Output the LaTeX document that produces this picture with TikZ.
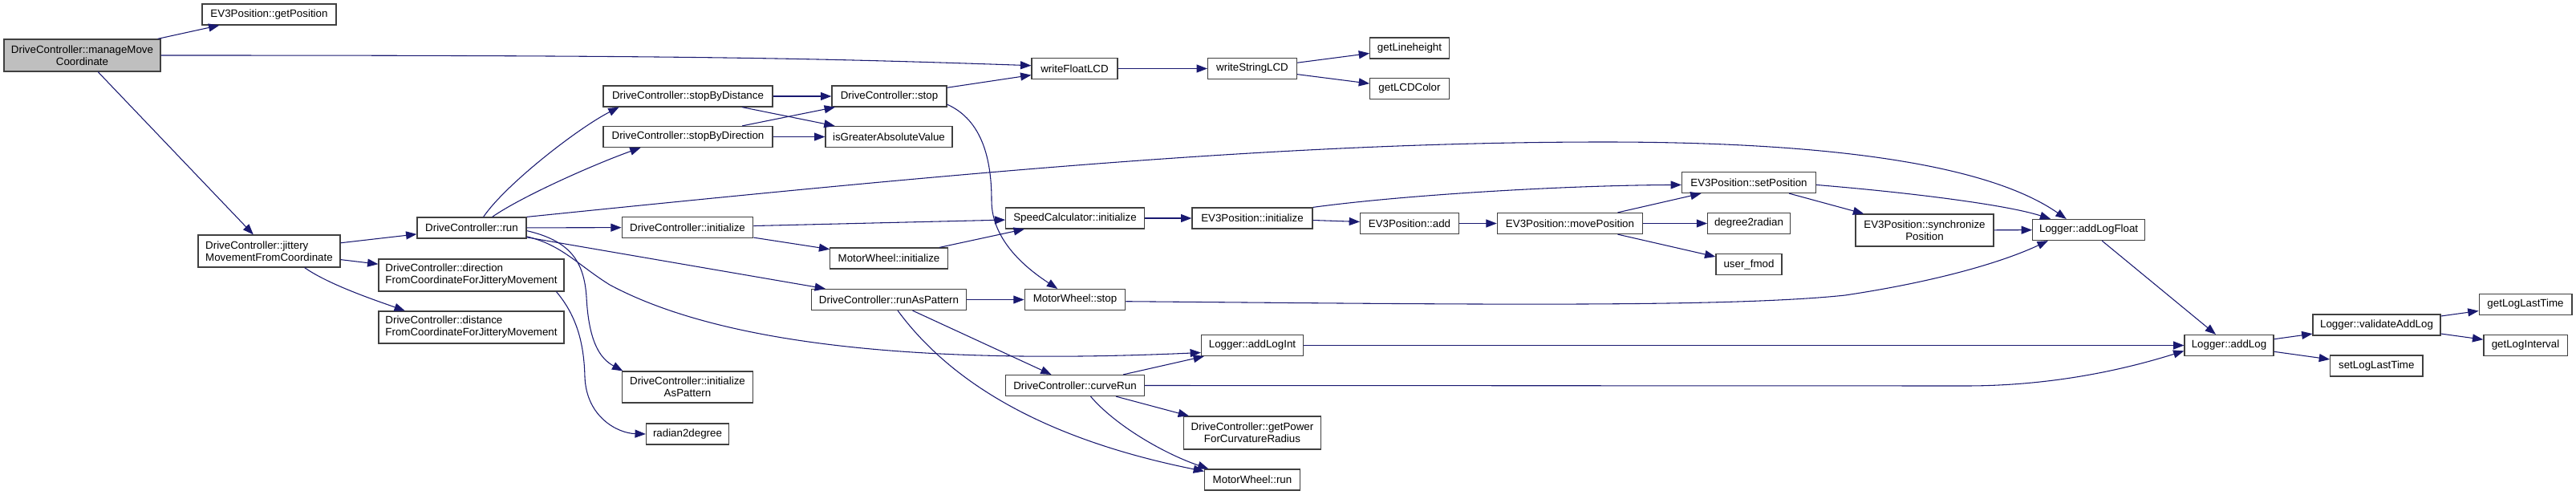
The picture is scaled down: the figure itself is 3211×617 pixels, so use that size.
\documentclass[tikz,border=0pt]{standalone}
\usepackage{fontspec}
\setmainfont{Liberation Sans}
\usepackage{tikz}
\usetikzlibrary{arrows.meta}
\usepackage{xcolor}
\definecolor{edgeblue}{HTML}{191970}
\definecolor{rootgray}{HTML}{BFBFBF}
\definecolor{boxline}{HTML}{404040}

\begin{document}
\begin{tikzpicture}[x=0.75pt, y=-0.75pt,
		func/.style={draw=boxline, line width=0.9pt, fill=white, font=\fontsize{10}{11.25}\selectfont, inner sep=0pt, minimum height=19.5pt, align=center},
		func_two/.style={func, minimum height=30pt},
		func_left/.style={func_two, align=left},
		func_root/.style={func_two, fill=rootgray},
		callstyle/.style={-{Triangle[length=10pt, width=7.5pt]}, line width=0.8pt, edgeblue}
	]
	\useasboundingbox (0,0) rectangle (3211,617);

	% --- Caller and first ranks ---
	\node[func_root, minimum width=146.25pt] (dc_mmc) at (102.5,69) {DriveController::manageMove\\Coordinate};
	\node[func, minimum width=125.25pt] (ev_getpos) at (335.5,18) {EV3Position::getPosition};
	\node[func_left, minimum width=132.75pt] (dc_jit) at (335.5,313) {DriveController::jittery\\MovementFromCoordinate};

	\node[func, minimum width=102pt] (dc_run) at (588,284) {DriveController::run};
	\node[func_left, minimum width=173.25pt] (dc_dir) at (587.5,343) {DriveController::direction\\FromCoordinateForJitteryMovement};
	\node[func_left, minimum width=173.25pt] (dc_dist) at (587.5,408) {DriveController::distance\\FromCoordinateForJitteryMovement};

	% --- Stop / initialize rank ---
	\node[func, minimum width=158.25pt] (dc_sbd) at (857.5,120) {DriveController::stopByDistance};
	\node[func, minimum width=158.25pt] (dc_sbdir) at (857.5,170.5) {DriveController::stopByDirection};
	\node[func, minimum width=122.6pt] (dc_init) at (857,283.5) {DriveController::initialize};
	\node[func_two, minimum width=122.6pt, minimum height=29.25pt] (dc_iap) at (857,482.5) {DriveController::initialize\\AsPattern};
	\node[func, minimum width=77.3pt] (u_r2d) at (857,541) {radian2degree};

	\node[func, minimum width=107.25pt] (dc_stop) at (1108.5,120) {DriveController::stop};
	\node[func, minimum width=118.5pt] (u_isg) at (1108,170.5) {isGreaterAbsoluteValue};
	\node[func, minimum width=109.7pt] (mw_init) at (1108,322) {MotorWheel::initialize};
	\node[func, minimum width=144.7pt] (dc_rap) at (1108,373.5) {DriveController::runAsPattern};

	\node[func, minimum width=80.25pt] (u_wfl) at (1339.5,85.5) {writeFloatLCD};
	\node[func, minimum width=129.4pt] (sc_init) at (1340,272) {SpeedCalculator::initialize};
	\node[func, minimum width=94.2pt] (mw_stop) at (1340,373.5) {MotorWheel::stop};
	\node[func, minimum width=129.3pt] (dc_crun) at (1340,480.5) {DriveController::curveRun};

	% --- LCD, position and logger ranks ---
	\node[func, minimum width=83.2pt] (u_wsl) at (1561,85.5) {writeStringLCD};
	\node[func, minimum width=112.5pt] (ev_init) at (1561,272) {EV3Position::initialize};
	\node[func, minimum width=95.2pt] (lg_int) at (1561,430.5) {Logger::addLogInt};
	\node[func_two, minimum width=128.7pt, minimum height=30.75pt] (dc_gpow) at (1561,539.5) {DriveController::getPower\\ForCurvatureRadius};
	\node[func, minimum width=89.1pt] (mw_run) at (1561,598) {MotorWheel::run};

	\node[func, minimum width=74pt] (u_glh) at (1757,60) {getLineheight};
	\node[func, minimum width=74pt] (u_glc) at (1757,110.5) {getLCDColor};
	\node[func, minimum width=92.1pt] (ev_add) at (1757,278.5) {EV3Position::add};
	\node[func, minimum width=136pt] (ev_move) at (1957,278.5) {EV3Position::movePosition};

	\node[func, minimum width=125.25pt] (ev_set) at (2180,227.5) {EV3Position::setPosition};
	\node[func, minimum width=77pt] (u_d2r) at (2180,278.5) {degree2radian};
	\node[func, minimum width=61.6pt] (u_fmod) at (2180,329.5) {user\_fmod};

	\node[func_two, minimum width=129pt] (ev_sync) at (2399,287) {EV3Position::synchronize\\Position};
	\node[func, minimum width=105pt] (lg_float) at (2603.6,286.5) {Logger::addLogFloat};
	\node[func, minimum width=83.2pt] (lg_add) at (2778.5,430.5) {Logger::addLog};
	\node[func, minimum width=119.2pt] (lg_val) at (2962.5,405) {Logger::validateAddLog};
	\node[func, minimum width=86.5pt] (u_sllt) at (2962.3,456) {setLogLastTime};
	\node[func, minimum width=86.8pt] (u_gllt) at (3148,379.5) {getLogLastTime};
	\node[func, minimum width=78.2pt] (u_gli) at (3148,430.5) {getLogInterval};

	% --- Connections ---
	\draw[callstyle] (dc_mmc) -- (ev_getpos);
	\draw[callstyle] (dc_mmc.east) .. controls (850,69) and (1000,72) .. (u_wfl.176);
	\draw[callstyle] (dc_mmc) -- (dc_jit);

	\draw[callstyle] (dc_jit) -- (dc_run);
	\draw[callstyle] (dc_jit) -- (dc_dir);
	\draw[callstyle] (dc_jit.-25) .. controls (410,355) and (470,375) .. (dc_dist.166);

	\draw[callstyle] (dc_run.43) .. controls (630,230) and (720,160) .. (dc_sbd.189);
	\draw[callstyle] (dc_run.28) .. controls (650,245) and (740,205) .. (dc_sbdir.193);
	\draw[callstyle] (dc_run.north east) .. controls (1200,215) and (1600,177) .. (2000,177)
		.. controls (2350,177) and (2500,220) .. (lg_float.154);
	\draw[callstyle] (dc_run) -- (dc_init);
	\draw[callstyle] (dc_run) -- (dc_rap);
	\draw[callstyle] (dc_run.-9) .. controls (700,305) and (720,330) .. (760,355)
		.. controls (900,430) and (1150,455) .. (lg_int.188);
	\draw[callstyle] (dc_run.-3) .. controls (710,300) and (728,325) .. (731,370)
		.. controls (734,430) and (750,448) .. (dc_iap.166);
	\draw[callstyle] (dc_dir.-11) .. controls (720,395) and (728,430) .. (729,470)
		.. controls (731,520) and (770,540) .. (u_r2d.west);

	\draw[callstyle] (dc_sbd) -- (dc_stop);
	\draw[callstyle] (dc_sbd) -- (u_isg);
	\draw[callstyle] (dc_sbdir) -- (dc_stop);
	\draw[callstyle] (dc_sbdir) -- (u_isg);
	\draw[callstyle] (dc_stop) -- (u_wfl);
	\draw[callstyle] (dc_stop.-8) .. controls (1225,150) and (1236,200) .. (1236,250)
		.. controls (1236,300) and (1280,335) .. (mw_stop.148);

	\draw[callstyle] (dc_init) -- (sc_init);
	\draw[callstyle] (dc_init) -- (mw_init);
	\draw[callstyle] (mw_init) -- (sc_init);

	\draw[callstyle] (dc_rap) -- (mw_stop);
	\draw[callstyle] (dc_rap) -- (dc_crun);
	\draw[callstyle] (dc_rap.-51) .. controls (1180,470) and (1290,545) .. (mw_run.170);

	\draw[callstyle] (u_wfl) -- (u_wsl);
	\draw[callstyle] (u_wsl) -- (u_glh);
	\draw[callstyle] (u_wsl) -- (u_glc);

	\draw[callstyle] (sc_init) -- (ev_init);
	\draw[callstyle] (ev_init.north east) .. controls (1750,243) and (1950,231) .. (ev_set.182);
	\draw[callstyle] (ev_init) -- (ev_add);
	\draw[callstyle] (ev_add) -- (ev_move);
	\draw[callstyle] (ev_move) -- (ev_set);
	\draw[callstyle] (ev_move) -- (u_d2r);
	\draw[callstyle] (ev_move) -- (u_fmod);
	\draw[callstyle] (ev_set) -- (ev_sync);
	\draw[callstyle] (ev_set.-2) .. controls (2380,240) and (2500,255) .. (lg_float.164);
	\draw[callstyle] (ev_sync) -- (lg_float);

	\draw[callstyle] (mw_stop.-2) .. controls (1800,379) and (2150,384) .. (2300,368)
		.. controls (2420,350) and (2500,325) .. (lg_float.195);

	\draw[callstyle] (dc_crun) -- (lg_int);
	\draw[callstyle] (dc_crun.east) -- (2450,481) .. controls (2560,481) and (2650,460) .. (lg_add.187);
	\draw[callstyle] (dc_crun) -- (dc_gpow);
	\draw[callstyle] (dc_crun.-35) .. controls (1390,530) and (1450,565) .. (mw_run.166);

	\draw[callstyle] (lg_int) -- (lg_add);
	\draw[callstyle] (lg_float) -- (lg_add);
	\draw[callstyle] (lg_add) -- (lg_val);
	\draw[callstyle] (lg_add) -- (u_sllt);
	\draw[callstyle] (lg_val) -- (u_gllt);
	\draw[callstyle] (lg_val) -- (u_gli);

\end{tikzpicture}
\end{document}
